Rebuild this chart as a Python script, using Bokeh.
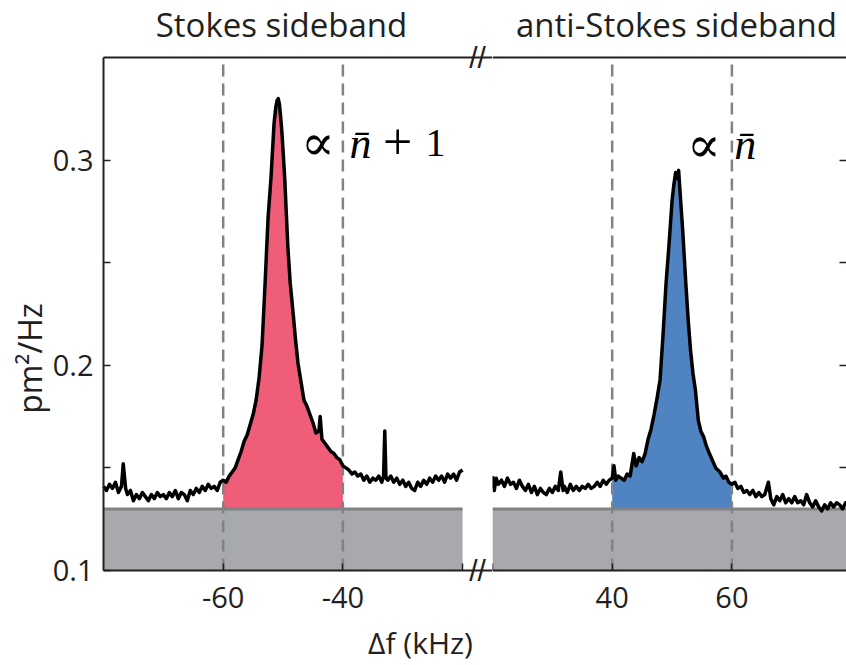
import numpy as np
from math import pi
from bokeh.plotting import figure
from bokeh.layouts import row
from bokeh.models import Range1d, FixedTicker, LinearAxis, Label, PrintfTickFormatter
from bokeh.embed import file_html
from bokeh.resources import INLINE

# ---------------- data ----------------
stokes_khz = [
    -80.0, -79.5, -79.0, -78.5, -78.0, -77.5, -77.0, -76.7, -76.3, -76.0,
    -75.5, -75.0, -74.5, -74.0, -73.5, -73.0, -72.5, -72.0, -71.5, -71.0,
    -70.5, -70.0, -69.5, -69.0, -68.5, -68.0, -67.5, -67.0, -66.5, -66.0,
    -65.5, -65.0, -64.5, -64.0, -63.5, -63.0, -62.5, -62.0, -61.5, -61.0,
    -60.5, -60.0, -59.5, -59.0, -58.5, -58.0, -57.5, -57.0, -56.5, -56.0,
    -55.5, -55.0, -54.5, -54.0, -53.5, -53.0, -52.5, -52.0, -51.5, -51.2,
    -51.0, -50.8, -50.6, -50.4, -50.2, -50.0, -49.7, -49.2, -48.8, -48.3,
    -47.9, -47.5, -47.0, -46.5, -46.0, -45.5, -45.0, -44.5, -44.0, -43.8,
    -43.5, -43.0, -42.5, -42.0, -41.5, -41.0, -40.5, -40.0, -39.5, -39.0,
    -38.5, -38.0, -37.5, -37.0, -36.5, -36.0, -35.5, -35.0, -34.5, -34.0,
    -33.5, -33.2, -33.0, -32.8, -32.5, -32.0, -31.5, -31.0, -30.5, -30.0,
    -29.5, -29.0, -28.5, -28.0, -27.5, -27.0, -26.5, -26.0, -25.5, -25.0,
    -24.5, -24.0, -23.5, -23.0, -22.5, -22.0, -21.5, -21.0, -20.5, -20.0,
]
stokes_psd = [
    0.141, 0.139, 0.142, 0.140, 0.143, 0.138, 0.141, 0.152, 0.140, 0.137,
    0.139, 0.134, 0.137, 0.135, 0.138, 0.136, 0.134, 0.137, 0.135, 0.138,
    0.136, 0.137, 0.135, 0.138, 0.136, 0.139, 0.135, 0.138, 0.137, 0.134,
    0.139, 0.137, 0.140, 0.138, 0.141, 0.139, 0.142, 0.140, 0.141, 0.139,
    0.143, 0.144, 0.143, 0.146, 0.148, 0.150, 0.154, 0.158, 0.163, 0.166,
    0.171, 0.176, 0.183, 0.194, 0.210, 0.240, 0.272, 0.292, 0.318, 0.326,
    0.329, 0.330, 0.327, 0.321, 0.314, 0.305, 0.290, 0.258, 0.240, 0.225,
    0.212, 0.201, 0.192, 0.183, 0.180, 0.176, 0.172, 0.167, 0.168, 0.175,
    0.164, 0.162, 0.160, 0.158, 0.157, 0.155, 0.154, 0.151, 0.150, 0.149,
    0.147, 0.148, 0.146, 0.147, 0.144, 0.146, 0.143, 0.145, 0.144, 0.146,
    0.143, 0.146, 0.168, 0.145, 0.144, 0.146, 0.143, 0.145, 0.142, 0.144,
    0.141, 0.143, 0.140, 0.139, 0.143, 0.141, 0.144, 0.142, 0.145, 0.143,
    0.146, 0.144, 0.146, 0.143, 0.147, 0.145, 0.147, 0.144, 0.148, 0.149,
]

anti_khz = [
    20.0, 20.3, 20.6, 21.0, 21.5, 22.0, 22.5, 23.0, 23.5, 24.0,
    24.5, 25.0, 25.5, 26.0, 26.5, 27.0, 27.5, 28.0, 28.5, 29.0,
    29.5, 30.0, 30.5, 31.0, 31.4, 31.8, 32.0, 32.5, 33.0, 33.5,
    34.0, 34.5, 35.0, 35.5, 36.0, 36.5, 37.0, 37.5, 38.0, 38.5,
    39.0, 39.5, 40.0, 40.3, 40.6, 41.0, 41.5, 42.0, 42.5, 43.0,
    43.6, 44.0, 44.5, 45.0, 45.5, 46.0, 46.5, 47.0, 47.5, 48.0,
    48.5, 49.0, 49.5, 50.0, 50.3, 50.6, 50.9, 51.1, 51.4, 51.8,
    52.3, 52.7, 53.1, 53.5, 53.9, 54.4, 54.8, 55.3, 55.7, 56.1,
    56.7, 57.3, 58.0, 58.6, 59.0, 59.5, 60.0, 60.5, 61.0, 61.5,
    62.0, 62.5, 63.0, 63.5, 64.0, 64.5, 65.0, 65.5, 66.1, 66.5,
    67.0, 67.5, 68.0, 68.5, 69.0, 69.5, 70.0, 70.5, 71.0, 71.5,
    72.0, 72.5, 73.0, 73.5, 74.0, 74.5, 75.0, 75.5, 76.0, 76.5,
    77.0, 77.5, 78.0, 78.5, 79.0, 79.5,
]
anti_psd = [
    0.146, 0.139, 0.145, 0.142, 0.144, 0.141, 0.145, 0.142, 0.143, 0.140,
    0.144, 0.141, 0.139, 0.142, 0.138, 0.141, 0.137, 0.140, 0.138, 0.137,
    0.140, 0.138, 0.141, 0.139, 0.148, 0.139, 0.141, 0.138, 0.142, 0.139,
    0.141, 0.139, 0.141, 0.140, 0.142, 0.140, 0.141, 0.143, 0.141, 0.144,
    0.142, 0.144, 0.145, 0.151, 0.144, 0.146, 0.145, 0.144, 0.147, 0.146,
    0.157, 0.151, 0.155, 0.153, 0.157, 0.164, 0.169, 0.176, 0.184, 0.193,
    0.215, 0.240, 0.259, 0.280, 0.288, 0.294, 0.291, 0.295, 0.282, 0.265,
    0.240, 0.222, 0.207, 0.196, 0.188, 0.173, 0.168, 0.165, 0.161, 0.158,
    0.154, 0.150, 0.148, 0.145, 0.146, 0.143, 0.142, 0.143, 0.140, 0.141,
    0.138, 0.139, 0.137, 0.139, 0.136, 0.138, 0.136, 0.137, 0.143, 0.135,
    0.132, 0.136, 0.134, 0.137, 0.133, 0.135, 0.133, 0.136, 0.133, 0.134,
    0.132, 0.137, 0.133, 0.131, 0.134, 0.131, 0.129, 0.132, 0.130, 0.133,
    0.131, 0.133, 0.132, 0.130, 0.133, 0.131,
]

background_level = 0.13          # grey noise-floor block
stokes_window = [-60, -40]       # integration window, Stokes
anti_window = [40, 60]           # integration window, anti-Stokes
y_labeled_ticks = [0.1, 0.2, 0.3]
y_minor_ticks = [0.15, 0.25]
right_y_ticks = [0.15, 0.2, 0.25, 0.3]
stokes_tick_values = [-60, -40]
anti_tick_values = [40, 60]
title_left = "Stokes sideband"
title_right = "anti-Stokes sideband"
y_title = "pm\u00b2/Hz"
x_title = "\u0394f (kHz)"

# ---------------- geometry / styling ----------------
Y_MIN, Y_MAX = 0.1, 0.35          # visible data window of the axes
STOKES_SPAN = (-80, -15)          # left axis span (incl. gap)
ANTI_SPAN = (20, 79.15)           # right axis span
H = 665
W1, W2 = 492, 354
AX_LEFT_PX, AX_TOP_PX, AX_BOTTOM_PX = 103, 57, 570
PX_PER_X = (W1 - AX_LEFT_PX) / (STOKES_SPAN[1] - STOKES_SPAN[0])
PX_PER_Y = (AX_BOTTOM_PX - AX_TOP_PX) / (Y_MAX - Y_MIN)
Y_RANGE = (Y_MIN - (H - AX_BOTTOM_PX) / PX_PER_Y, Y_MAX + AX_TOP_PX / PX_PER_Y)
X1_RANGE = (STOKES_SPAN[0] - AX_LEFT_PX / PX_PER_X, STOKES_SPAN[1])
X2_RANGE = (ANTI_SPAN[0], ANTI_SPAN[0] + W2 / PX_PER_X)

PINK = "#EF5D79"
BLUE = "#4F83C2"
GRAY_FILL = "#A7A9AC"
GRAY_LINE = "#808285"
INK = "#231F20"
FONT = "Open Sans"


def make_fig(width, xr):
    p = figure(width=width, height=H, x_range=Range1d(*xr), y_range=Range1d(*Y_RANGE),
               toolbar_location=None, output_backend="svg",
               x_axis_location=None, y_axis_location=None,
               min_border_left=0, min_border_right=0, min_border_top=0, min_border_bottom=0)
    p.outline_line_color = None
    p.xgrid.visible = False
    p.ygrid.visible = False
    p.background_fill_color = "white"
    p.border_fill_color = "white"
    return p


def axis(ticks, minor, loc, bounds, standoff=12, fmt=None):
    kw = {}
    if fmt:
        kw["formatter"] = PrintfTickFormatter(format=fmt)
    ax = LinearAxis(ticker=FixedTicker(ticks=ticks, minor_ticks=minor),
                    fixed_location=loc, bounds=bounds, **kw)
    ax.axis_line_color = INK
    ax.axis_line_width = 2
    ax.major_tick_in = 7
    ax.major_tick_out = 0
    ax.minor_tick_in = 7
    ax.minor_tick_out = 0
    ax.major_tick_line_color = INK
    ax.minor_tick_line_color = INK
    ax.major_tick_line_width = 1.5
    ax.minor_tick_line_width = 1.5
    ax.major_label_standoff = standoff
    ax.major_label_text_font = FONT
    ax.major_label_text_font_size = "29px"
    ax.major_label_text_color = INK
    return ax


def text(p, x, y, s, size, font=FONT, style="normal", align="center", angle=0, color=INK):
    p.add_layout(Label(x=x, y=y, text=s, text_align=align, text_baseline="middle",
                       text_font=font, text_font_style=style, text_font_size=size,
                       text_color=color, angle=angle))


def draw_panel(p, xs, ys, window, fill_color):
    xs = np.asarray(xs)
    ys = np.asarray(ys)
    x_lo, x_hi = xs[0], xs[-1]
    p.quad(left=[x_lo], right=[x_hi], bottom=[Y_MIN], top=[background_level],
           fill_color=GRAY_FILL, line_color=None)
    m = (xs >= window[0]) & (xs <= window[1])
    p.varea(x=xs[m], y1=background_level, y2=ys[m], fill_color=fill_color)
    p.line(x=[x_lo, x_hi], y=[background_level, background_level],
           line_color=GRAY_LINE, line_width=3)
    p.segment(x0=window, y0=[Y_MIN] * len(window), x1=window, y1=[Y_MAX] * len(window),
              line_color=GRAY_LINE, line_width=2.5, line_dash="12 7")
    p.line(x=xs, y=ys, line_color="black", line_width=3.5, line_join="round")


# ---------------- left (Stokes) panel ----------------
p1 = make_fig(W1, X1_RANGE)
draw_panel(p1, stokes_khz, stokes_psd, stokes_window, PINK)

p1.add_layout(axis(stokes_tick_values, [stokes_khz[-1]], Y_MIN, STOKES_SPAN, 16, "%d"), "below")
p1.add_layout(axis(y_labeled_ticks, y_minor_ticks, STOKES_SPAN[0], (Y_MIN, Y_MAX), 10, "%.1f"), "left")
p1.add_layout(axis([], [], Y_MAX, STOKES_SPAN, 0), "above")

gap_mid = (stokes_khz[-1] + STOKES_SPAN[1]) / 2
for yb in (Y_MAX, Y_MIN):
    text(p1, gap_mid, yb, "//", "30px", font="Liberation Sans")

text(p1, -50.26, 0.3663, title_left, "33px")
text(p1, -92.36, 0.2033, y_title, "32px", angle=pi / 2)
text(p1, -27.03, 0.0647, x_title, "30px")

# proportionality annotation  ∝ n̄ + 1
text(p1, -47.0, 0.3081, "\u221d", "50px", font="DejaVu Serif", align="left", color="black")
text(p1, -38.9, 0.3081, "n\u0304", "44px", font="Liberation Serif", style="italic", align="left", color="black")
text(p1, -33.3, 0.3090, "+", "52px", font="Liberation Serif", align="left", color="black")
text(p1, -26.2, 0.3081, "1", "40px", font="Liberation Serif", align="left", color="black")

# ---------------- right (anti-Stokes) panel ----------------
p2 = make_fig(W2, X2_RANGE)
draw_panel(p2, anti_khz, anti_psd, anti_window, BLUE)

p2.add_layout(axis(anti_tick_values, [anti_khz[0]], Y_MIN, X2_RANGE, 16, "%d"), "below")
p2.add_layout(axis([], [], Y_MAX, X2_RANGE, 0), "above")
ry2 = axis([], right_y_ticks, X2_RANGE[1], (Y_MIN, Y_MAX), 0)
ry2.axis_line_color = None
p2.add_layout(ry2, "right")

text(p2, 50.74, 0.3663, title_right, "33px")
text(p2, 52.5, 0.3076, "\u221d", "50px", font="DejaVu Serif", align="left", color="black")
text(p2, 60.4, 0.3076, "n\u0304", "44px", font="Liberation Serif", style="italic", align="left", color="black")

layout = row(p1, p2)
open("out.html", "w").write(file_html(layout, INLINE))
